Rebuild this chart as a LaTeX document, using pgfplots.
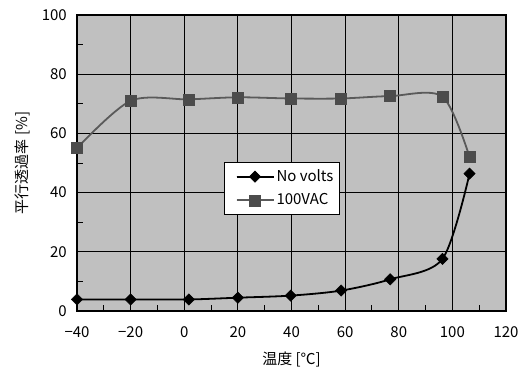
\documentclass[border=0pt]{standalone}
\usepackage{pgfplots}
\pgfplotsset{compat=1.18}
\usepackage{fontspec}
\setmainfont{Noto Sans CJK JP}
\definecolor{bggray}{HTML}{C0C0C0}
\definecolor{acgray}{HTML}{5A5A5A}
\definecolor{acmark}{HTML}{4C4C4C}
\begin{document}
\fontsize{15}{17}\selectfont
\begin{tikzpicture}
\begin{axis}[
  scale only axis,
  width=429pt, height=296pt,
  xmin=-40, xmax=120, ymin=0, ymax=100,
  xtick={-40,-20,...,120}, ytick={0,20,...,100},
  tick align=inside,
  major tick length=0pt,
  xmajorgrids=true, ymajorgrids=true,
  major grid style={black, line width=0.8pt},
  axis line style={black, line width=2pt},
  axis background/.style={fill=bggray},
  /pgf/number format/assume math mode=true,
  xticklabel style={font=\fontsize{15}{17}\selectfont, yshift=-10pt},
  yticklabel style={font=\fontsize{15}{17}\selectfont, xshift=-5pt},
  xticklabel={\ifdim\tick pt<0pt −\pgfmathparse{abs(\tick)}\pgfmathprintnumber{\pgfmathresult}\else\pgfmathprintnumber{\tick}\fi},
  xlabel={温度 [℃]},
  ylabel={平行透過率 [\%]},
  xlabel style={font=\fontsize{15}{17}\selectfont, yshift=-4pt},
  ylabel style={font=\fontsize{15}{17}\selectfont, yshift=2pt},
  legend style={at={(axis cs:14.9,50.3)}, anchor=north west, draw=black, line width=0.8pt, fill=white,
    font=\fontsize{15}{17}\selectfont, row sep=6pt, inner xsep=4pt, inner ysep=5pt},
  legend cell align=left,
  legend image code/.code={\path (-7pt,0pt); \draw[#1, line width=2pt] (0pt,0pt) -- (37pt,0pt); \draw[#1, mark repeat=2, mark phase=2] plot coordinates {(0pt,0pt) (18.5pt,0pt) (37pt,0pt)};},
  clip=false,
]
\addplot[black, line width=1.8pt, smooth, tension=0.5, mark=square*, mark size=4pt,
  mark options={rotate=45, fill=black, solid, line width=0.5pt}]
  coordinates {(-40,3.9) (-20,3.9) (1.7,3.9) (20,4.5) (39.7,5.2) (58.5,6.9) (76.8,10.7) (96.3,17.6) (106.4,46.4)};
\addlegendentry{No volts}
\addplot[acgray, line width=1.8pt, smooth, tension=0.5, mark=square*, mark size=5.5pt,
  mark options={fill=acmark, draw=acmark, line width=0.5pt}]
  coordinates {(-40,55) (-20,71) (1.7,71.5) (20,72.2) (39.7,71.8) (58.5,71.8) (76.8,72.6) (96.3,72.4) (106.4,52)};
\addlegendentry{100VAC}
\coordinate (bl) at (rel axis cs:0,0);
\coordinate (tr) at (rel axis cs:1,1);
\end{axis}
\foreach \i in {1,3,...,15} \draw[black, line width=0.9pt] ([xshift=\i*26.8125pt]bl) -- ++(0,6pt);
\foreach \j in {1,3,...,9} \draw[black, line width=0.9pt] ([yshift=\j*29.6pt]bl) -- ++(6pt,0);
\pgfresetboundingbox
\path ([xshift=-77pt,yshift=-64pt]bl) rectangle ([xshift=12pt,yshift=15pt]tr);
\end{tikzpicture}
\end{document}
